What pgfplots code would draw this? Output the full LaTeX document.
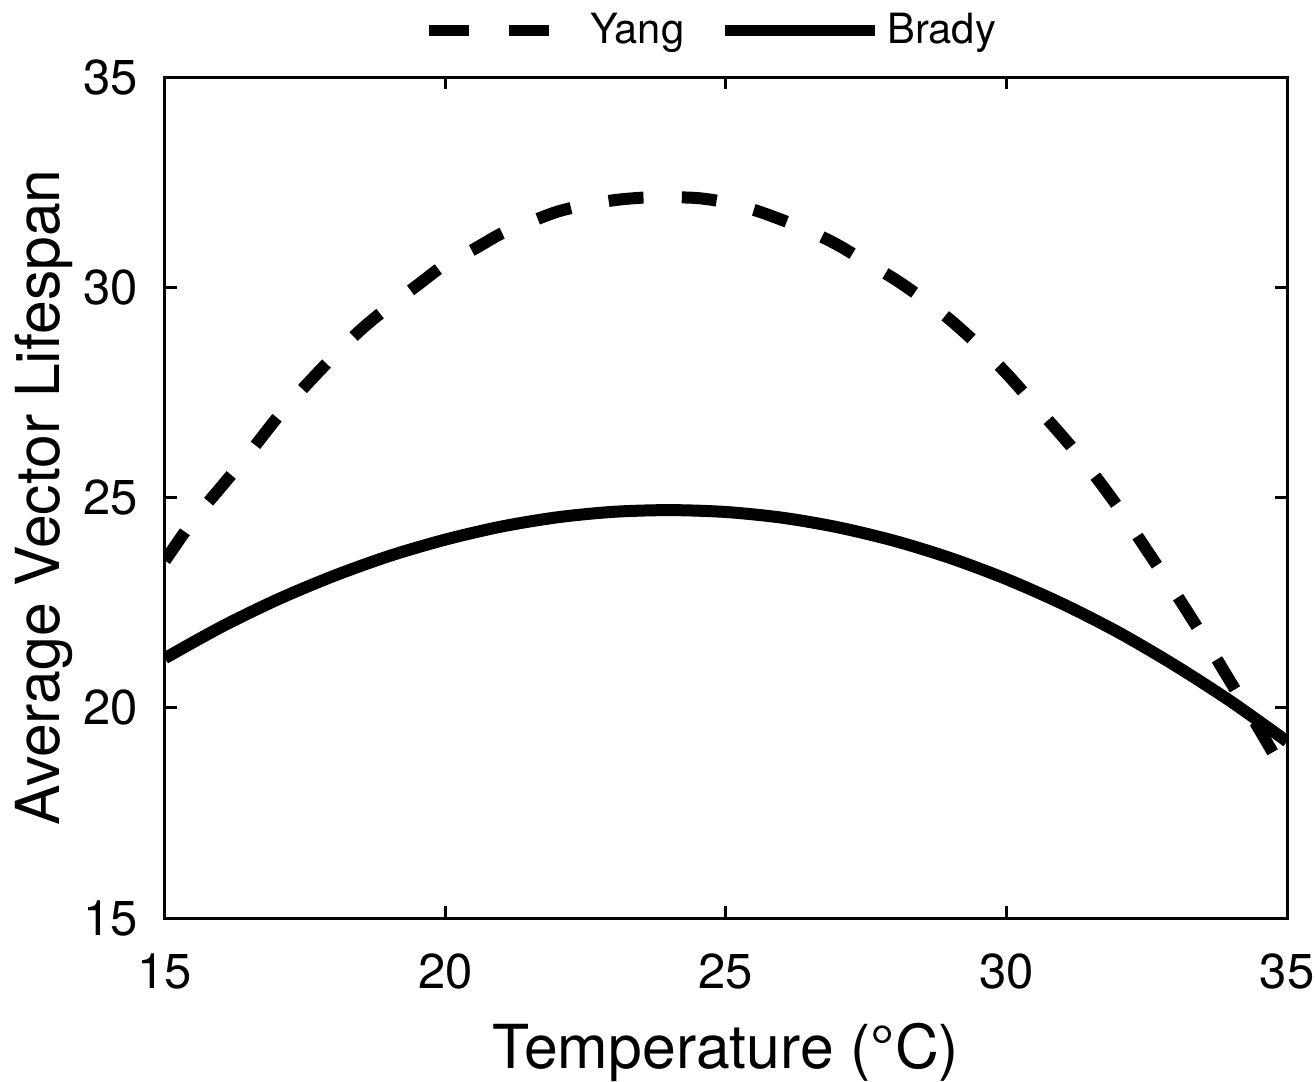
\documentclass[border=0pt]{standalone}
\usepackage{fontspec}
\setmainfont{TeX Gyre Heros}
\usepackage{pgfplots}
\pgfplotsset{compat=1.18}
\begin{document}
\begin{tikzpicture}
\begin{axis}[
  scale only axis,
  width=336.6pt, height=252.3pt,
  xmin=15, xmax=35, ymin=15, ymax=35,
  xtick={15,20,25,30,35}, ytick={15,20,25,30,35},
  tick align=inside,
  major tick length=3.6pt,
  axis line style={line width=0.9pt},
  every tick/.style={line width=0.9pt, black},
  /pgf/number format/assume math mode=true,
  ticklabel style={font=\fontsize{14.7}{16}\selectfont},
  xticklabel style={inner sep=0pt, anchor=north, yshift=-10.5pt},
  yticklabel style={inner sep=0pt, anchor=east, xshift=-8pt},
  xlabel={Temperature (°C)},
  ylabel={Average Vector Lifespan},
  label style={font=\fontsize{18.2}{20}\selectfont, inner sep=0pt},
  xlabel style={at={(axis description cs:0.5,-0.1784)}, anchor=base},
  ylabel style={at={(axis description cs:-0.0936,0.5)}, anchor=base},
  legend columns=2,
  legend style={draw=none, fill=none, at={(axis description cs:0.5,1)}, anchor=south,
    xshift=-3.9pt, yshift=6.5pt, inner sep=0pt,
    font=\fontsize{12.5}{14}\selectfont,
    /tikz/every even column/.append style={column sep=8.7pt}},
]
\addplot[black, line width=3.6pt, dash pattern=on 10.5pt off 11.5pt, smooth,
  legend image code/.code={\draw[black, line width=3.2pt, dash pattern=on 12pt off 12pt] (0pt,0pt) -- (45pt,0pt);}]
coordinates {
(15,23.5) (15.5,24.45) (16,25.25) (16.5,26.05) (17,26.9) (17.5,27.65) (18,28.35)
(18.5,29.0) (19,29.55) (19.5,30.05) (20,30.55) (20.5,30.9) (21,31.28) (21.5,31.55)
(22,31.8) (22.5,31.96) (23,32.07) (23.5,32.13) (24,32.14) (24.5,32.12) (25,32.02)
(25.5,31.84) (26,31.6) (26.5,31.33) (27,31.0) (27.5,30.6) (28,30.2) (28.5,29.74)
(29,29.22) (29.5,28.62) (30,27.95) (30.5,27.2) (31,26.45) (31.5,25.65) (32,24.75)
(32.5,23.75) (33,22.75) (33.5,21.7) (34,20.6) (34.5,19.5) (35,18.35)
};
\addlegendentry{Yang}
\addplot[black, line width=3.6pt, smooth,
  legend image code/.code={\draw[black, line width=3.2pt] (0pt,0pt) -- (45pt,0pt);}]
coordinates {
(15,21.18) (16,21.92) (17,22.57) (18,23.13) (19,23.61) (20,24.0) (21,24.31) (22,24.53)
(23,24.66) (24,24.7) (25,24.655) (26,24.52) (27,24.29) (28,23.97) (29,23.56)
(30,23.06) (31,22.47) (32,21.79) (33,21.01) (34,20.15) (35,19.2)
};
\addlegendentry{Brady}
\end{axis}
\path (-49.5pt,-48.9pt) rectangle (345pt,275.4pt);
\end{tikzpicture}
\end{document}
